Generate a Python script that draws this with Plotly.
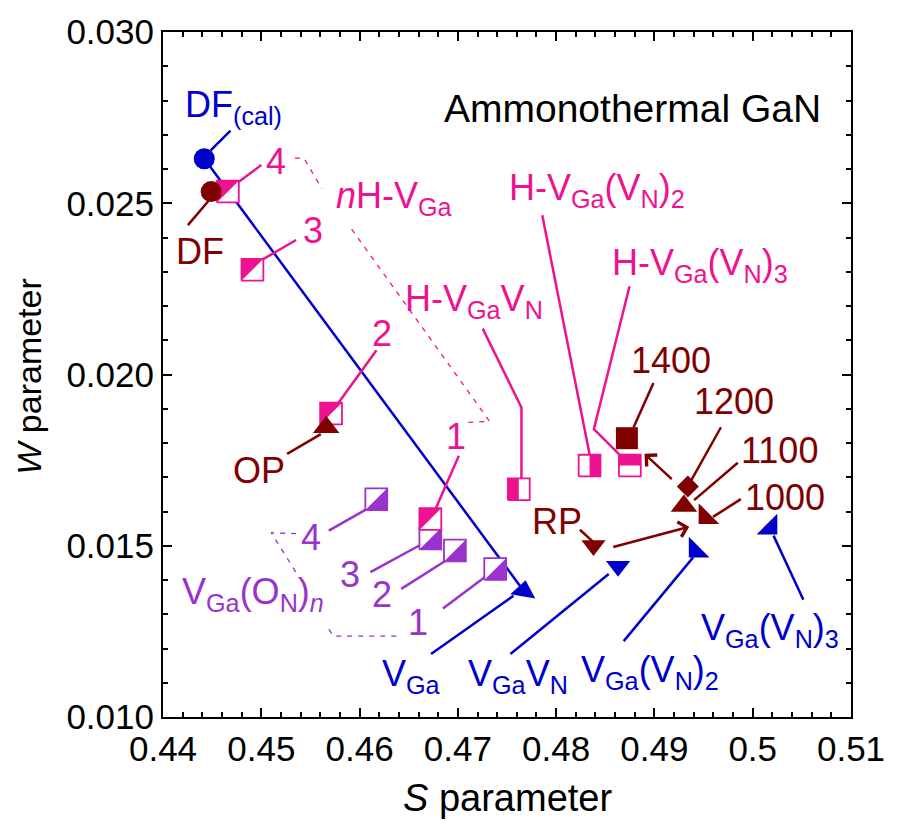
import plotly.graph_objects as go

# ---------------- data ----------------
# calculated positions (blue)
calc_names = ["DF(cal)", "VGa", "VGaVN", "VGa(VN)2", "VGa(VN)3"]
calc_S = [0.4442, 0.4767, 0.4863, 0.4942, 0.5018]
calc_W = [0.0263, 0.01368, 0.01440, 0.01486, 0.01553]

# experimental states (dark red)
exp_names = ["DF", "OP", "RP", "1000", "1100", "1200", "1400"]
exp_S = [0.4449, 0.4566, 0.4838, 0.4952, 0.4930, 0.4934, 0.4872]
exp_W = [0.02534, 0.01846, 0.01501, 0.01584, 0.01616, 0.01673, 0.01814]

# nH-VGa complexes (pink, n = 1..4)
nH_n = [1, 2, 3, 4]
nH_S = [0.4672, 0.4571, 0.4491, 0.4466]
nH_W = [0.01578, 0.01886, 0.02306, 0.02534]

# H-VGa(VN)m complexes (pink)
HV_names = ["H-VGaVN", "H-VGa(VN)2", "H-VGa(VN)3"]
HV_S = [0.4762, 0.4834, 0.4875]
HV_W = [0.01665, 0.01734, 0.01734]

# VGa(ON)n complexes (purple, n = 1..4)
ON_n = [1, 2, 3, 4]
ON_S = [0.4738, 0.4697, 0.4672, 0.4617]
ON_W = [0.01432, 0.01486, 0.01521, 0.01636]

x_tickvals = [0.44, 0.45, 0.46, 0.47, 0.48, 0.49, 0.50, 0.51]
x_ticktext = ["0.44", "0.45", "0.46", "0.47", "0.48", "0.49", "0.5", "0.51"]
y_tickvals = [0.010, 0.015, 0.020, 0.025, 0.030]
y_ticktext = ["0.010", "0.015", "0.020", "0.025", "0.030"]

# ---------------- layout constants ----------------
FIG_W, FIG_H = 897, 827
ML, MR, MT, MB = 163, 41, 22, 110
X_RANGE = [0.44, 0.51]
Y_RANGE = [0.010, 0.030]
PLOT_W = FIG_W - ML - MR
PLOT_H = FIG_H - MT - MB

BLUE = "#0000cc"
DRED = "#800000"
PINK = "#ee1290"
PURPLE = "#9a32cd"
FONT = "Liberation Sans, Arial, sans-serif"
LABEL_SIZE = 36

SQ_HALF_PX = 11
HX = SQ_HALF_PX * (X_RANGE[1] - X_RANGE[0]) / PLOT_W
HY = SQ_HALF_PX * (Y_RANGE[1] - Y_RANGE[0]) / PLOT_H

HALF_SHAPES = {
    "ul": [(-1, 1), (1, 1), (-1, -1)],
    "lr": [(1, 1), (1, -1), (-1, -1)],
    "left": [(-1, -1), (0, -1), (0, 1), (-1, 1)],
    "right": [(0, -1), (1, -1), (1, 1), (0, 1)],
    "top": [(-1, 0), (1, 0), (1, 1), (-1, 1)],
}


def polys(xs, ys, kinds=None):
    px, py = [], []
    for i, (x, y) in enumerate(zip(xs, ys)):
        pts = [(-1, -1), (1, -1), (1, 1), (-1, 1)] if kinds is None else HALF_SHAPES[kinds[i]]
        pts = pts + [pts[0]]
        px += [x + a * HX for a, b in pts] + [None]
        py += [y + b * HY for a, b in pts] + [None]
    return px, py


fig = go.Figure()

# main blue line DF(cal) -> VGa
fig.add_trace(go.Scatter(x=calc_S[:2], y=calc_W[:2], mode="lines",
                         line=dict(color=BLUE, width=2.5), hoverinfo="skip"))

# dashed brackets
dashed = {
    PINK: [
        [(0.45343, 0.026317), (0.45434, 0.026317), (0.45616, 0.025424)],
        [(0.45919, 0.024245), (0.47323, 0.018633), (0.47101, 0.018604)],
    ],
    PURPLE: [
        [(0.45354, 0.015353), (0.45101, 0.015381), (0.45364, 0.014173)],
        [(0.45687, 0.012561), (0.45737, 0.012360), (0.46374, 0.012360)],
    ],
}
for col, segs in dashed.items():
    xs, ys = [], []
    for seg in segs:
        xs += [p[0] for p in seg] + [None]
        ys += [p[1] for p in seg] + [None]
    fig.add_trace(go.Scatter(x=xs, y=ys, mode="lines",
                             line=dict(color=col, width=1.3, dash="5px,6px"), hoverinfo="skip"))

# leader lines
leaders = {
    BLUE: [
        [(0.44485, 0.026547), (0.44687, 0.027122)],
        [(0.46727, 0.011842), (0.47566, 0.013540)],
        [(0.47535, 0.011842), (0.48535, 0.014173)],
        [(0.48687, 0.012216), (0.49394, 0.014662)],
        [(0.50515, 0.013424), (0.50212, 0.015295)],
    ],
    DRED: [
        [(0.44475, 0.025108), (0.44253, 0.024360)],
        [(0.45606, 0.018259), (0.45263, 0.017683)],
        [(0.48242, 0.015468), (0.48374, 0.015122)],
        [(0.48990, 0.019755), (0.48788, 0.018460)],
        [(0.49677, 0.018460), (0.49374, 0.016906)],
        [(0.49848, 0.017424), (0.49404, 0.016331)],
        [(0.49879, 0.016360), (0.49596, 0.015842)],
    ],
    PINK: [
        [(0.44758, 0.025597), (0.45000, 0.026115)],
        [(0.45010, 0.023353), (0.45354, 0.023928)],
        [(0.45788, 0.019180), (0.46172, 0.020705)],
        [(0.46768, 0.016043), (0.47010, 0.017626)],
        [(0.47253, 0.021338), (0.47647, 0.019036), (0.47647, 0.016964)],
        [(0.47859, 0.024647), (0.48343, 0.017626)],
        [(0.48747, 0.022576), (0.48384, 0.018403), (0.48657, 0.017626)],
    ],
    PURPLE: [
        [(0.45687, 0.015439), (0.46091, 0.016101)],
        [(0.46111, 0.014230), (0.46626, 0.015036)],
        [(0.46424, 0.013741), (0.46899, 0.014604)],
        [(0.46848, 0.013165), (0.47303, 0.014144)],
    ],
}
for col, segs in leaders.items():
    xs, ys = [], []
    for seg in segs:
        xs += [p[0] for p in seg] + [None]
        ys += [p[1] for p in seg] + [None]
    fig.add_trace(go.Scatter(x=xs, y=ys, mode="lines",
                             line=dict(color=col, width=2.5), hoverinfo="skip"))

# half-filled squares: purple first, then pink
sq_groups = [
    (PURPLE, ON_S, ON_W, ["lr"] * 4),
    (PINK, nH_S, nH_W, ["ul"] * 4),
    (PINK, HV_S, HV_W, ["left", "right", "top"]),
]
for col, xs, ys, kinds in sq_groups:
    ox, oy = polys(xs, ys)
    fig.add_trace(go.Scatter(x=ox, y=oy, mode="lines", fill="toself", fillcolor="white",
                             line=dict(color=col, width=1.8), hoverinfo="skip"))
    hx, hy = polys(xs, ys, kinds)
    fig.add_trace(go.Scatter(x=hx, y=hy, mode="none", fill="toself", fillcolor=col,
                             hoverinfo="skip"))

# experimental markers (dark red)
fig.add_trace(go.Scatter(
    x=exp_S, y=exp_W, mode="markers",
    marker=dict(color=DRED, opacity=1,
                symbol=["circle", "triangle-up", "triangle-down", "triangle-sw",
                        "triangle-up", "diamond", "square"],
                size=[21, 23, 21, 23, 23, 17, 22], line=dict(width=0)),
    hoverinfo="skip"))

# calculated markers (blue)
fig.add_trace(go.Scatter(
    x=calc_S, y=calc_W, mode="markers",
    marker=dict(color=BLUE, opacity=1,
                symbol=["circle", "triangle-up", "triangle-down", "triangle-sw", "triangle-se"],
                angle=[0, 10, 0, 0, 0],
                size=[21, 22, 21, 23, 23], line=dict(width=0)),
    hoverinfo="skip"))

# ---------------- annotations ----------------
labels = [
    # text, x, y, color, xanchor
    ("DF<sub>(cal)</sub>", 0.44202, 0.02781, BLUE, "left"),
    ("DF", 0.44374, 0.02358, DRED, "center"),
    ("4", 0.45152, 0.02623, PINK, "center"),
    ("3", 0.45525, 0.02419, PINK, "center"),
    ("2", 0.46232, 0.02119, PINK, "center"),
    ("1", 0.46980, 0.01820, PINK, "center"),
    ("<i>n</i>H-V<sub>Ga</sub>", 0.45737, 0.02516, PINK, "left"),
    ("H-V<sub>Ga</sub>V<sub>N</sub>", 0.46444, 0.02214, PINK, "left"),
    ("H-V<sub>Ga</sub>(V<sub>N</sub>)<sub>2</sub>", 0.47505, 0.02540, PINK, "left"),
    ("H-V<sub>Ga</sub>(V<sub>N</sub>)<sub>3</sub>", 0.48545, 0.02321, PINK, "left"),
    ("OP", 0.44980, 0.01719, DRED, "center"),
    ("RP", 0.48010, 0.01570, DRED, "center"),
    ("1400", 0.49172, 0.02042, DRED, "center"),
    ("1200", 0.49808, 0.01921, DRED, "center"),
    ("1100", 0.50273, 0.01777, DRED, "center"),
    ("1000", 0.50333, 0.01642, DRED, "center"),
    ("V<sub>Ga</sub>", 0.46212, 0.01121, BLUE, "left"),
    ("V<sub>Ga</sub>V<sub>N</sub>", 0.47081, 0.01121, BLUE, "left"),
    ("V<sub>Ga</sub>(V<sub>N</sub>)<sub>2</sub>", 0.48232, 0.01130, BLUE, "left"),
    ("V<sub>Ga</sub>(V<sub>N</sub>)<sub>3</sub>", 0.49455, 0.01253, BLUE, "left"),
    ("V<sub>Ga</sub>(O<sub>N</sub>)<sub><i>n</i></sub>", 0.44172, 0.01360, PURPLE, "left"),
    ("4", 0.45505, 0.01524, PURPLE, "center"),
    ("3", 0.45899, 0.01417, PURPLE, "center"),
    ("2", 0.46232, 0.01357, PURPLE, "center"),
    ("1", 0.46596, 0.01276, PURPLE, "center"),
]
annotations = []
for text, x, y, col, xa in labels:
    annotations.append(dict(text=text, x=x, y=y, xref="x", yref="y", xanchor=xa,
                            yanchor="middle", showarrow=False,
                            font=dict(family=FONT, size=LABEL_SIZE, color=col)))

annotations.append(dict(text="Ammonothermal GaN", x=0.48778, y=0.02776, xref="x", yref="y",
                        xanchor="center", yanchor="middle", showarrow=False,
                        font=dict(family=FONT, size=39, color="black")))

# axis titles
annotations.append(dict(text="<i>S</i> parameter", x=0.5, y=-0.118, xref="paper",
                        yref="paper", xanchor="center", yanchor="middle", showarrow=False,
                        font=dict(family=FONT, size=38, color="black")))
annotations.append(dict(text="<i>W</i> parameter", x=-0.195, y=0.498, xref="paper",
                        yref="paper", xanchor="center", yanchor="middle", showarrow=False,
                        textangle=-90, font=dict(family=FONT, size=34, color="black")))

# arrows (head, tail)
arrows = [
    ((0.48899, 0.017683), (0.49192, 0.016906)),
    ((0.49354, 0.015554), (0.48566, 0.014950)),
]
for head, tail in arrows:
    annotations.append(dict(x=head[0], y=head[1], ax=tail[0], ay=tail[1],
                            xref="x", yref="y", axref="x", ayref="y", text="",
                            showarrow=True, arrowhead=4, arrowsize=1.2, arrowwidth=2.5,
                            arrowcolor=DRED, standoff=0, startstandoff=0))

axis_common = dict(showline=True, linecolor="black", linewidth=2, mirror="ticks",
                   ticks="inside", ticklen=9, tickwidth=2, tickcolor="black",
                   showgrid=False, zeroline=False)

fig.update_layout(
    width=FIG_W, height=FIG_H,
    margin=dict(l=ML, r=MR, t=MT, b=MB, pad=0),
    paper_bgcolor="white", plot_bgcolor="white",
    showlegend=False,
    font=dict(family=FONT, color="black"),
    annotations=annotations,
    xaxis=dict(range=X_RANGE, tickvals=x_tickvals, ticktext=x_ticktext,
               tickfont=dict(size=35, family=FONT),
               minor=dict(dtick=0.002, tick0=0.44, ticks="inside", ticklen=5,
                          tickwidth=2, tickcolor="black"),
               **axis_common),
    yaxis=dict(range=Y_RANGE, tickvals=y_tickvals, ticktext=y_ticktext,
               tickfont=dict(size=35, family=FONT),
               minor=dict(dtick=0.001, tick0=0.010, ticks="inside", ticklen=5,
                          tickwidth=2, tickcolor="black"),
               **axis_common),
)

fig.write_html("out.html")
